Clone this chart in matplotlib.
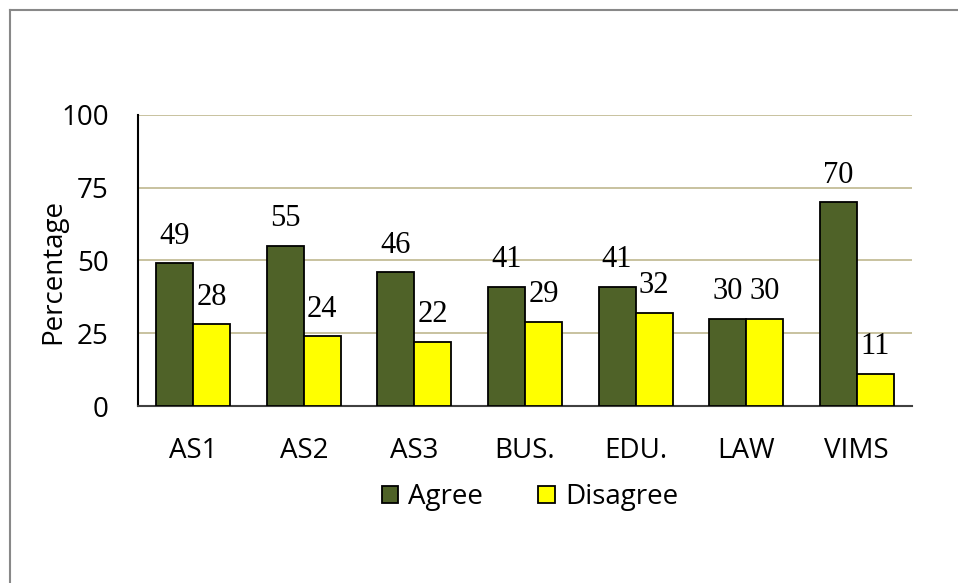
import matplotlib.pyplot as plt
import numpy as np

categories = ["AS1", "AS2", "AS3", "BUS.", "EDU.", "LAW", "VIMS"]
agree = [49, 55, 46, 41, 41, 30, 70]
disagree = [28, 24, 22, 29, 32, 30, 11]

fig = plt.figure(figsize=(9.58, 5.83), dpi=100)
ax = fig.add_axes([0.144, 0.3036, 0.808, 0.4994])

x = np.arange(len(categories))
w = 0.335
b1 = ax.bar(x - w / 2, agree, w, color="#4F6228", edgecolor="black", linewidth=1.3,
            label="Agree", zorder=3)
b2 = ax.bar(x + w / 2, disagree, w, color="#FFFF00", edgecolor="black", linewidth=1.3,
            label="Disagree", zorder=3)

for bars, vals in ((b1, agree), (b2, disagree)):
    for r, v in zip(bars, vals):
        ax.annotate(str(v), (r.get_x() + r.get_width() / 2, v), xytext=(0, 9),
                    textcoords="offset points", ha="center", va="bottom",
                    fontsize=22, family="Liberation Serif")

ax.set_xlim(-0.5, len(categories) - 0.5)
ax.set_ylim(0, 100)
ax.set_yticks([0, 25, 50, 75, 100])
ax.set_xticks(x)
ax.set_xticklabels(categories)
ax.tick_params(length=0, labelsize=20)
ax.tick_params(axis="y", pad=21)
ax.tick_params(axis="x", pad=22)
for lab in ax.get_xticklabels() + ax.get_yticklabels():
    lab.set_family("Open Sans")
ax.yaxis.grid(True, color="#C4BD97", linewidth=1.3, zorder=0)
ax.set_axisbelow(True)
for s in ["top", "right"]:
    ax.spines[s].set_visible(False)
ax.spines["left"].set_linewidth(1.5)
ax.spines["bottom"].set_linewidth(1.5)
ax.spines["bottom"].set_color("#404040")
ax.set_ylabel("Percentage", fontsize=20, family="Open Sans")
ax.yaxis.set_label_coords(53 / 958, 1 - 271 / 583, transform=fig.transFigure)
ax.yaxis.label.set_va("center")

fig.legend(loc="center", bbox_to_anchor=(0.553, 0.147), ncol=2, frameon=False,
           prop={"family": "Open Sans", "size": 20}, handlelength=0.6, handleheight=0.6,
           handletextpad=0.35, columnspacing=2.0)

# outer frame (only top and left edges are visible in the crop)
fig.add_artist(plt.Line2D([10 / 958, 10 / 958], [0, 1 - 10 / 583], color="#888888",
                          linewidth=1.5, transform=fig.transFigure))
fig.add_artist(plt.Line2D([10 / 958, 1], [1 - 10 / 583, 1 - 10 / 583], color="#888888",
                          linewidth=1.5, transform=fig.transFigure))

fig.savefig("out.png", dpi=100)
